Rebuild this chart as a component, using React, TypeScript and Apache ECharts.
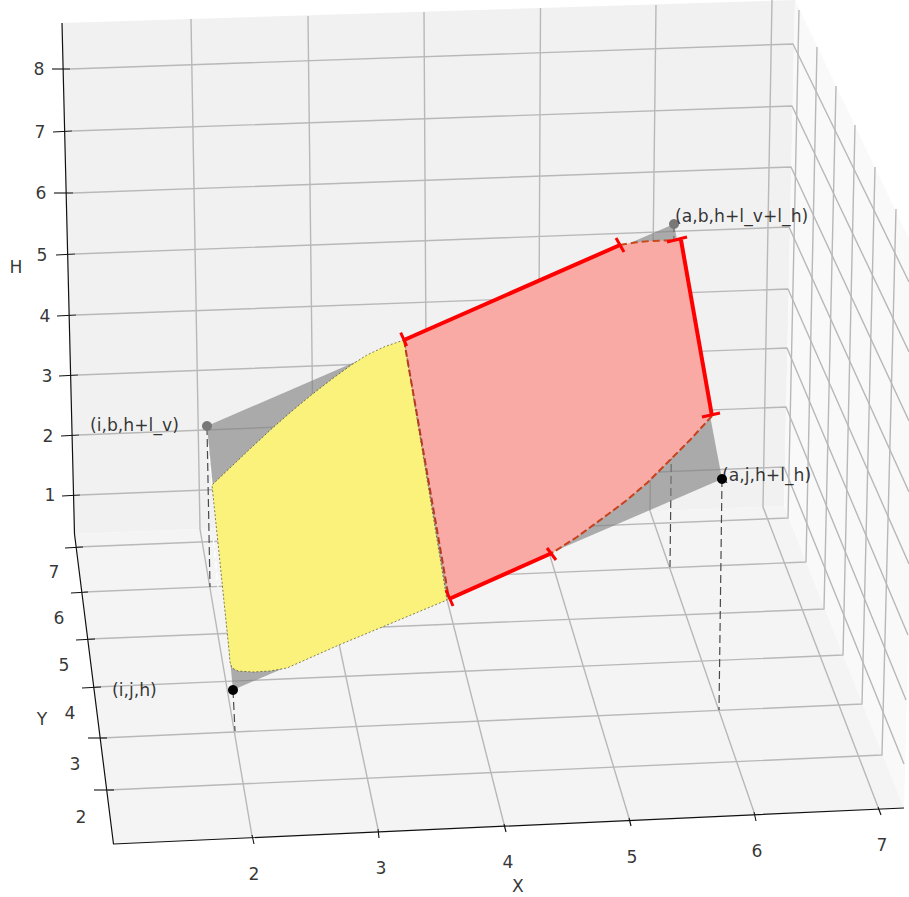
import React, { useEffect, useRef } from "react";
import * as echarts from "echarts";

type Pt = [number, number];

// Picture plane of the projected 3D scene, in the reference's pixels.
const PLANE_W = 909;
const PLANE_H = 897;

// Tick labels and where the projection puts them
const xTickLabels = ["2", "3", "4", "5", "6", "7"];
const xTickLabelAt: Pt[] = [[254, 874], [381, 868], [508, 862], [632, 857], [757, 851], [882, 845]];
const yTickLabels = ["7", "6", "5", "4", "3", "2"];
const yTickLabelAt: Pt[] = [[54, 572], [59, 618], [64, 665], [70, 713], [75, 764], [81, 817]];
const hTickLabels = ["8", "7", "6", "5", "4", "3", "2", "1"];
const hTickLabelAt: Pt[] = [[39, 69], [40, 132], [41, 193], [42, 255], [45, 316], [47, 376], [48, 436], [50, 495]];
const axisNames = ["X", "Y", "H"];
const axisNameAt: Pt[] = [[518, 886], [42, 719], [16, 267]];

// Panes
const backPane: Pt[] = [[62, 23], [795, 0], [784, 506], [74, 534]];
const floorPane: Pt[] = [[74, 534], [784, 506], [904, 808], [113.5, 844]];
const sidePane: Pt[] = [[795, 0], [909, 239], [909, 615], [904, 808], [784, 506]];

// Grid lines, projected: one polyline per tick value
const xGrid: Pt[][] = [
  [[191, 19], [200, 529], [252, 836]],
  [[308, 16], [314, 525], [378, 829]],
  [[424, 12], [427, 521], [504, 824]],
  [[540.5, 8], [538, 516], [629, 818]],
  [[656, 5], [650, 511], [754, 812]],
  [[772, 0], [763, 507], [878, 807]],
];
const yGrid: Pt[][] = [
  [[799, 10], [788, 518], [77, 547]],
  [[817, 47], [806, 562], [84, 592]],
  [[836, 86], [824, 609], [89, 639]],
  [[855, 125], [843, 655], [95, 687]],
  [[875, 167], [862, 704], [101, 738]],
  [[896, 209], [882, 755], [108, 790]],
];
const hGrid: Pt[][] = [
  [[70, 69], [793, 44], [909, 282]],
  [[72, 131], [792, 106], [909, 352]],
  [[73, 193], [791, 167], [909, 421]],
  [[75, 254], [789, 227], [909, 492]],
  [[76, 315], [788, 289], [909, 564]],
  [[78, 375], [787, 348], [908, 635]],
  [[79, 435], [786, 407], [906, 700]],
  [[80, 495], [784, 467], [904, 764]],
];

// Axis lines and tick marks
const axisLines: Pt[][] = [
  [[62, 23], [74.5, 534], [113.5, 844], [904, 808]],
];
const tickMarks: Pt[][] = [
  [[252, 835], [254, 844]], [[378, 829], [379, 838]], [[504, 824], [506, 832]],
  [[629, 818], [631, 826]], [[754, 812], [756, 821]], [[878, 807], [881, 815]],
  [[65, 548], [83, 547]], [[71, 593], [88, 592]], [[76, 640], [95, 639]],
  [[82, 688], [101, 687]], [[88, 738], [107, 738]], [[94, 790], [114, 790]],
  [[52, 69], [70, 69]], [[53, 132], [72, 131]], [[54, 193], [73, 193]], [[56, 255], [75, 254]],
  [[57, 316], [76, 315]], [[59, 376], [78, 375]], [[61, 436], [79, 435]], [[62, 496], [80, 495]],
];

// Sloped plane and its corners
const grayPlane: Pt[] = [[207, 426], [674, 224], [722, 479], [233, 690]];
const cornerNames = ["(a,b,h+l_v+l_h)", "(i,b,h+l_v)", "(a,j,h+l_h)", "(i,j,h)"];
const cornerNameAt: Pt[] = [[675, 216], [90, 425], [722, 475], [112, 690]];
const backCorners: Pt[] = [[207, 426], [674, 224]];
const frontCorners: Pt[] = [[722, 479], [233, 690]];
const dropLines: Pt[][] = [
  [[207, 427], [210, 587]],
  [[674, 224], [670, 567]],
  [[722, 479], [719, 710]],
  [[233, 690], [235, 731]],
];
const lightStreaks: Pt[][] = [
  [[208.5, 445], [212, 487]],
  [[213.5, 540], [218, 587]],
];

// Coloured regions on the plane
const yellowRegion: Pt[] = [
  [404, 340], [385, 346.5], [367, 355], [352, 364.5], [332, 379], [312, 394.5], [292, 411], [272, 428.5],
  [252, 447], [232, 466], [212, 485], [229, 650], [230, 662], [232, 668], [238, 671], [253, 672],
  [270, 671], [287, 668], [339, 645], [447, 600],
];
const topArc: Pt[] = [[620, 245], [635, 242.5], [650, 241], [665, 240.5], [681, 240]];
const bottomArc: Pt[] = [
  [712, 416], [690, 440], [670, 460], [647, 483], [627, 500], [607, 515], [577, 537], [552, 553],
];
const sharedEdge: Pt[] = [[404, 340], [449, 599]];
const redRuns: Pt[][] = [
  [[404, 340], [620, 245]],
  [[681, 240], [712, 416]],
  [[552, 553], [449, 599]],
];
const redCaps: Pt[][] = [
  [[400.7, 332.7], [406.7, 346]],
  [[616, 238], [624, 252]],
  [[667, 242], [687, 237]],
  [[702, 417], [720, 413]],
  [[547, 548], [556, 560]],
  [[446, 590], [453, 606]],
];

const FONT = "DejaVu Sans";
const TEXT = "#000000";
const TEXT_SIZE = 17.2;

function polygon(name: string, pts: Pt[], fill: string, z: number) {
  return {
    type: "custom",
    name,
    coordinateSystem: "cartesian2d",
    data: pts,
    encode: { x: 0, y: 1 },
    silent: true,
    clip: false,
    z,
    renderItem: (params: any, api: any) =>
      params.dataIndex === 0
        ? { type: "polygon", shape: { points: pts.map((q) => api.coord(q)) }, style: { fill } }
        : null,
  };
}

function line(pts: Pt[], color: string, width: number, z: number, dash?: number[]) {
  return {
    type: "line",
    data: pts,
    symbol: "none",
    silent: true,
    clip: false,
    z,
    lineStyle: { color, width, type: dash ?? "solid", cap: "butt", join: "round" },
  };
}

function labels(texts: string[], at: Pt[], align: string, z: number) {
  return {
    type: "scatter",
    data: at.map((p, i) => ({ value: p, name: texts[i] })),
    symbolSize: 1,
    itemStyle: { color: "rgba(0,0,0,0)" },
    silent: true,
    clip: false,
    z,
    label: {
      show: true,
      position: "inside",
      formatter: (p: any) => p.name,
      align,
      verticalAlign: "middle",
      fontFamily: FONT,
      fontSize: TEXT_SIZE,
      color: TEXT,
      textBorderWidth: 0,
      textBorderColor: "transparent",
    },
  };
}

function dots(pts: Pt[], color: string, z: number) {
  return {
    type: "scatter",
    data: pts,
    symbolSize: 10,
    itemStyle: { color, opacity: 1 },
    silent: true,
    clip: false,
    z,
  };
}

export default function App() {
  const ref = useRef<HTMLDivElement>(null);
  useEffect(() => {
    document.body.style.margin = "0";
    const chart = echarts.init(ref.current!, undefined, { renderer: "svg" });
    const grid = "#b8b8b8";
    const pinkRegion: Pt[] = [
      ...redRuns[0],
      ...topArc.slice(1),
      ...redRuns[1].slice(1),
      ...bottomArc.slice(1),
      ...redRuns[2].slice(1),
    ];
    chart.setOption({
      animation: false,
      backgroundColor: "#ffffff",
      grid: { left: 0, right: 0, top: 0, bottom: 0 },
      xAxis: { type: "value", min: 0, max: PLANE_W, show: false },
      yAxis: { type: "value", min: 0, max: PLANE_H, inverse: true, show: false },
      series: [
        polygon("back pane", backPane, "#f1f1f1", 1),
        polygon("floor pane", floorPane, "#f4f4f4", 1),
        polygon("side pane", sidePane, "#f9f9f9", 1),
        ...[...xGrid, ...yGrid, ...hGrid].map((g) => line(g, grid, 1.4, 2)),
        ...axisLines.map((a) => line(a, "#111111", 1.2, 3)),
        ...tickMarks.map((t) => line(t, "#111111", 1.1, 3)),
        ...lightStreaks.map((s) => line(s, "#ffffff", 1.3, 4, [7, 4])),
        ...dropLines.map((d) => line(d, "#4a4a4a", 1.2, 4, [8, 4])),
        polygon("plane", grayPlane, "rgba(128,128,128,0.63)", 5),
        dots(backCorners, "#787878", 6),
        dots(frontCorners, "#000000", 6),
        polygon("yellow", yellowRegion, "#faf27b", 7),
        line([...yellowRegion, yellowRegion[0]], "rgba(50,50,20,0.75)", 0.8, 8, [2, 2]),
        polygon("pink", pinkRegion, "#f9aaa5", 7),
        line(sharedEdge, "#b83a20", 2, 9, [7, 3]),
        line(topArc, "#c84a1c", 2, 9, [7, 4]),
        line(bottomArc, "#c8401c", 2, 9, [7, 3]),
        ...redRuns.map((r) => line(r, "#ff0000", 4, 10)),
        ...redCaps.map((c) => line(c, "#ff0000", 3, 10)),
        labels(cornerNames, cornerNameAt, "left", 11),
        labels(xTickLabels, xTickLabelAt, "center", 11),
        labels(yTickLabels, yTickLabelAt, "center", 11),
        labels(hTickLabels, hTickLabelAt, "center", 11),
        labels(axisNames, axisNameAt, "center", 11),
      ],
    });
    return () => chart.dispose();
  }, []);
  return <div ref={ref} style={{ width: PLANE_W, height: PLANE_H, display: "block" }} />;
}
